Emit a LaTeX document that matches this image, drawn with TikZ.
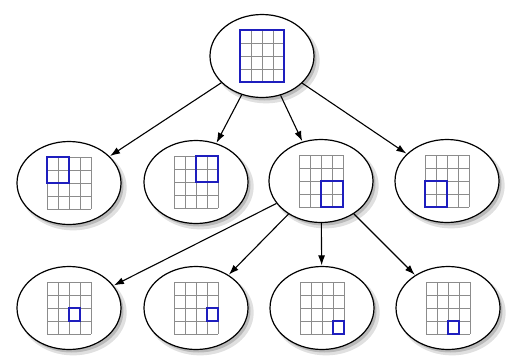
\documentclass[tikz,border=0pt]{standalone}
\usetikzlibrary{shapes.geometric,arrows.meta,shadows}
\definecolor{boxblue}{RGB}{30,30,190}
\tikzset{
  treenode/.style={ellipse, draw=black, line width=1.2pt, fill=white,
    minimum width=104pt, minimum height=83pt, inner sep=0pt,
    general shadow={shadow xshift=4pt, shadow yshift=-4.5pt, opacity=0.12, fill=black, shadow scale=1.03},
    drop shadow={shadow xshift=2.5pt, shadow yshift=-3pt, opacity=0.4, fill=gray}},
  gridline/.style={draw=gray!90, line width=0.9pt},
  bluebox/.style={draw=boxblue, line width=2pt},
  link/.style={-{Latex[length=10pt,width=7pt]}, line width=1.1pt, black, shorten >=0.5pt}
}
\newcommand{\cellgrid}[5]{%
  \begin{scope}[shift={(#1.center)}]
    \foreach \i in {0,...,4} {\draw[gridline] (-22+11*\i,-26) -- (-22+11*\i,26);}
    \foreach \j in {0,...,4} {\draw[gridline] (-22,-26+13*\j) -- (22,-26+13*\j);}
    \draw[bluebox] (-22+11*#2,-26+13*#3) rectangle (-22+11*#4,-26+13*#5);
  \end{scope}}
\begin{document}
\begin{tikzpicture}[x=1pt,y=-1pt]
\useasboundingbox (0,0) rectangle (518,359);
\node[treenode] (t)  at (262,56) {};
\node[treenode] (m1) at (69,183) {};
\node[treenode] (m2) at (196,182) {};
\node[treenode] (m3) at (321,181) {};
\node[treenode] (m4) at (447,181) {};
\node[treenode] (b1) at (69,308) {};
\node[treenode] (b2) at (196,308) {};
\node[treenode] (b3) at (322,308) {};
\node[treenode] (b4) at (448,308) {};
\cellgrid{t}{0}{0}{4}{4}
\cellgrid{m1}{0}{0}{2}{2}
\cellgrid{m2}{2}{0}{4}{2}
\cellgrid{m3}{2}{2}{4}{4}
\cellgrid{m4}{0}{2}{2}{4}
\cellgrid{b1}{2}{2}{3}{3}
\cellgrid{b2}{3}{2}{4}{3}
\cellgrid{b3}{3}{3}{4}{4}
\cellgrid{b4}{2}{3}{3}{4}
\foreach \n in {m1,m2,m3,m4} {\draw[link] (t) -- (\n);}
\foreach \n in {b1,b2,b3,b4} {\draw[link] (m3) -- (\n);}
\end{tikzpicture}
\end{document}
